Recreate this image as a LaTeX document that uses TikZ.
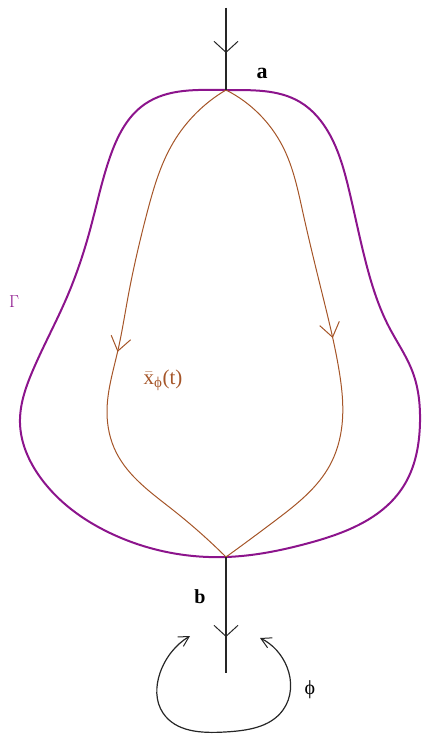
\documentclass[tikz,border=0pt]{standalone}
\usepackage{fontspec}
\setmainfont{Liberation Serif}
\usetikzlibrary{arrows.meta,decorations.markings,hobby}
\definecolor{gampurple}{RGB}{140,20,140}
\definecolor{pathbrown}{RGB}{165,85,40}
\tikzset{
  barb/.style={-{Straight Barb[length=11pt,width=24pt,line width=1pt]}},
  midbarb/.style={postaction={decorate},decoration={markings,
     mark=at position #1 with {\arrow{Straight Barb[length=14pt,width=20pt,line width=1pt]}}}},
  blackline/.style={draw=black!85,line width=1.2pt},
  gamline/.style={draw=gampurple,line width=2pt},
  pathline/.style={draw=pathbrown,line width=1pt},
  phibarb/.style={{Straight Barb[length=10pt,width=11pt,line width=1pt]}-{Straight Barb[length=10pt,width=11pt,line width=1pt]}},
}
\begin{document}
\begin{tikzpicture}[x=1pt,y=-1pt]
\useasboundingbox (0,0) rectangle (421,738);
\coordinate (top) at (226,8);
\coordinate (a) at (226,90);
\coordinate (b) at (226,557);
\coordinate (bot) at (226,673);
\coordinate (topmid) at (226,53);
\coordinate (botmid) at (226,637);
% Gamma contour
\draw[gamline] plot[closed hobby] coordinates {
 (226,90) (300,102) (330,135) (349,190) (366,263) (389,327) (413,373) (420,422)
 (403,487) (309,543) (226,557) (110,533) (40,477) (20,423) (33,370) (67,297)
 (90,230) (110,157) (145,104)};
% orange paths
\draw[pathline,midbarb=0.534] plot[hobby] coordinates {
 (226,90) (173,143) (147,213) (128,297) (118,350) (107,413) (116,452) (173,510) (226,557)};
\draw[pathline,midbarb=0.509] plot[hobby] coordinates {
 (226,90) (283,147) (303,213) (323,297) (339,370) (342,425) (330,465) (276,520) (226,557)};
% vertical black line
\draw[blackline] (top) -- (a);
\draw[blackline,barb] (top) -- (topmid);
\draw[blackline] (b) -- (bot);
\draw[blackline,barb] (b) -- (botmid);
% phi loop
\coordinate (pl) at (190,636);
\coordinate (pr) at (260,638);
\draw[blackline,phibarb] plot[hobby] coordinates {
 (190,636) (160,673) (163,713) (225,732) (283,710) (287,667) (260,638)};
% labels
\node[font=\bfseries\fontsize{22}{26}\selectfont] (la) at (262,73) {a};
\node[font=\bfseries\fontsize{20}{24}\selectfont] (lb) at (200,597) {b};
\node[text=gampurple,font=\fontsize{17}{20}\selectfont] (lg) at (14,302) {$\Gamma$};
\node[text=pathbrown,font=\fontsize{21}{25}\selectfont] (lx) at (163,380) {$\bar{\mbox{x}}_{\mbox{\fontsize{15}{17}\selectfont ϕ}}$(t)};
\node[font=\fontsize{20}{24}\selectfont] (lphi) at (310,690) {ϕ};
\end{tikzpicture}
\end{document}
